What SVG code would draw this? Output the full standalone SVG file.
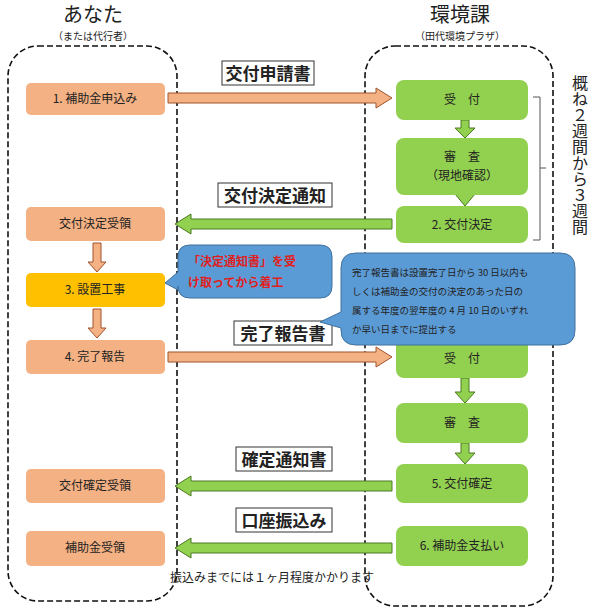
<svg xmlns="http://www.w3.org/2000/svg" width="600" height="613" viewBox="0 0 600 613">
<style>
text{font-family:"Noto Sans CJK JP","Noto Sans",sans-serif;text-anchor:middle;fill:#222}
.lane{fill:none;stroke:#111;stroke-width:1.6;stroke-dasharray:6,3}
.o{fill:#f4b183;stroke:none}
.g{fill:#92d050}
.t{font-size:12px}
.lab{fill:#fff;stroke:#333;stroke-width:1}
.lt{font-size:17px;font-weight:bold}
.ao{fill:#f4b183;stroke:#a0522d;stroke-width:1}
.ag{fill:#92d050;stroke:#4a7a20;stroke-width:1}
.co{fill:#5b9bd5;stroke:#41719c;stroke-width:1}
.s{text-anchor:start}
</style>
<rect width="600" height="613" fill="#fff"/>
<text x="93" y="22" style="font-size:20px">あなた</text>
<text x="93" y="40" style="font-size:10px">（または代行者）</text>
<text x="460" y="22" style="font-size:20px">環境課</text>
<text x="460" y="40" style="font-size:10px">（田代環境プラザ）</text>
<rect class="lane" x="8" y="46" width="169" height="555" rx="30"/>
<rect class="lane" x="365" y="46" width="188" height="560" rx="30"/>
<g id="connectors">
<path class="ao" d="M168,93 H376 V88 L392,98 L376,108 V103 H168 Z"/>
<path class="ag" d="M392,219 H191 V214 L175,224 L191,234 V229 H392 Z"/>
<path class="ao" d="M168,352 H376 V347 L392,357 L376,367 V362 H168 Z"/>
<path class="ag" d="M392,481 H191 V476 L175,486 L191,496 V491 H392 Z"/>
<path class="ag" d="M392,543 H191 V538 L175,548 L191,558 V553 H392 Z"/>
<path class="ao" d="M93,243 H101 V262 H106 L97,272 L88,262 H93 Z"/>
<path class="ao" d="M93,309 H101 V328 H106 L97,338 L88,328 H93 Z"/>
<path class="ag" d="M461,120 H469 V128 H475 L465,138 L455,128 H461 Z"/>
<path class="ag" d="M461,184 H469 V194 H475 L465,206 L455,194 H461 Z"/>
<path class="ag" d="M461,378 H469 V392 H475 L465,403 L455,392 H461 Z"/>
<path class="ag" d="M461,443 H469 V453 H475 L465,464 L455,453 H461 Z"/>
<path d="M533,97 H540 V240 H533 M540,168 H546" fill="none" stroke="#555" stroke-width="1"/>
</g>
<g id="l1"><rect class="lab" x="222" y="61" width="92" height="24"/><text class="lt" x="268" y="80">交付申請書</text></g>
<g id="l2"><rect class="lab" x="218" y="183" width="114" height="24"/><text class="lt" x="275" y="202">交付決定通知</text></g>
<g id="l3"><rect class="lab" x="234" y="321" width="98" height="24"/><text class="lt" x="283" y="340">完了報告書</text></g>
<g id="l4"><rect class="lab" x="236" y="447" width="96" height="24"/><text class="lt" x="284" y="466">確定通知書</text></g>
<g id="l5"><rect class="lab" x="236" y="508" width="96" height="24"/><text class="lt" x="284" y="527">口座振込み</text></g>
<g id="a1"><rect class="o" x="26" y="83" width="139" height="32" rx="5"/><text class="t" x="95" y="103">1. 補助金申込み</text></g>
<g id="a2"><rect class="o" x="26" y="207" width="139" height="34" rx="5"/><text class="t" x="95" y="228">交付決定受領</text></g>
<g id="a3"><rect fill="#ffc000" x="26" y="273" width="139" height="34" rx="5"/><text class="t" x="95" y="294">3. 設置工事</text></g>
<g id="a4"><rect class="o" x="26" y="340" width="139" height="34" rx="5"/><text class="t" x="95" y="361">4. 完了報告</text></g>
<g id="a5"><rect class="o" x="26" y="469" width="139" height="34" rx="5"/><text class="t" x="95" y="490">交付確定受領</text></g>
<g id="a6"><rect class="o" x="26" y="531" width="139" height="35" rx="5"/><text class="t" x="95" y="552">補助金受領</text></g>
<g id="b1"><rect class="g" x="396" y="80" width="132" height="40" rx="8"/><text class="t" x="462" y="104">受　付</text></g>
<g id="b2"><rect class="g" x="396" y="138" width="132" height="57" rx="8"/><text class="t" x="462" y="161">審　査</text><text class="t" x="462" y="180">（現地確認）</text></g>
<g id="b3"><rect class="g" x="396" y="206" width="132" height="37" rx="8"/><text class="t" x="462" y="229">2. 交付決定</text></g>
<g id="b4"><rect class="g" x="396" y="338" width="132" height="40" rx="8"/><text class="t" x="462" y="363">受　付</text></g>
<g id="b5"><rect class="g" x="396" y="403" width="132" height="40" rx="8"/><text class="t" x="462" y="427">審　査</text></g>
<g id="b6"><rect class="g" x="396" y="464" width="132" height="39" rx="8"/><text class="t" x="462" y="488">5. 交付確定</text></g>
<g id="b7"><rect class="g" x="396" y="526" width="132" height="40" rx="8"/><text class="t" x="462" y="550">6. 補助金支払い</text></g>
<g id="c1"><path class="co" d="M190,245 H320 Q332,245 332,257 V286 Q332,298 320,298 H190 Q178,298 178,286 V290 L165,283 L178,272 V257 Q178,245 190,245 Z"/>
<text class="s" x="188" y="266" style="font-size:12px;fill:#e02020;font-weight:bold">「決定通知書」を受</text><text class="s" x="188" y="287" style="font-size:12px;fill:#e02020;font-weight:bold">け取ってから着工</text></g>
<g id="c2"><path class="co" d="M356,253 H560 Q575,253 575,268 V330 Q575,345 560,345 H356 Q341,345 341,330 V328 L320,322 L341,312 V268 Q341,253 356,253 Z"/>
<g style="font-size:9.5px"><text class="s" x="352" y="276">完了報告書は設置完了日から 30 日以内も</text><text class="s" x="352" y="295">しくは補助金の交付の決定のあった日の</text><text class="s" x="352" y="314">属する年度の翌年度の 4 月 10 日のいずれ</text><text class="s" x="352" y="333">か早い日までに提出する</text></g></g>
<text id="v" x="580" y="75" writing-mode="vertical-rl" style="font-size:16px;text-anchor:start;text-orientation:upright">概ね２週間から３週間</text>
<text x="272" y="582" style="font-size:12px">振込みまでには１ヶ月程度かかります</text>
</svg>
